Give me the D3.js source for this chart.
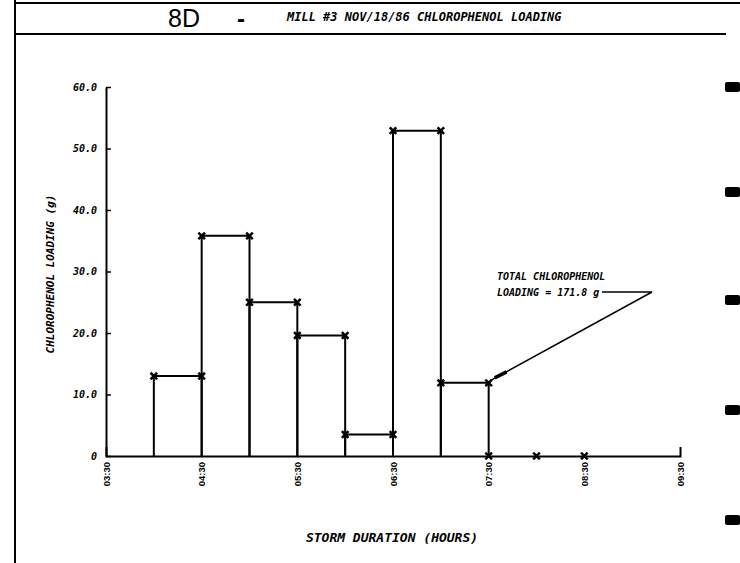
<!DOCTYPE html>
<html><head><meta charset="utf-8">
<script src="https://cdn.jsdelivr.net/npm/d3@7"></script>
<style>body{margin:0;background:#fff}</style>
</head><body><svg id="c" width="740" height="563"></svg>
<script>
// ---- data ----
const intervalStarts = ["04:00","04:30","05:00","05:30","06:00","06:30","07:00"];
const intervalEnds   = ["04:30","05:00","05:30","06:00","06:30","07:00","07:30"];
const loadings       = [13.0, 35.8, 25.0, 19.6, 3.5, 52.9, 11.9];
const zeroTimes      = ["07:30","08:00","08:30"];
const zeroValues     = [0, 0, 0];
const xTickLabels    = ["03:30","04:30","05:30","06:30","07:30","08:30","09:30"];
const yTicks         = [0, 10, 20, 30, 40, 50, 60];
const yTickLabels    = ["0","10.0","20.0","30.0","40.0","50.0","60.0"];
const figureId       = "8D";
const titleText      = "MILL #3 NOV/18/86 CHLOROPHENOL LOADING";
const yTitle         = "CHLOROPHENOL LOADING (g)";
const xTitle         = "STORM DURATION (HOURS)";
const totalNote      = ["TOTAL CHLOROPHENOL", "LOADING = 171.8 g"];

const parse = d3.timeParse("%H:%M");
const svg = d3.select("#c");
const plotFont = "'DejaVu Sans Mono', monospace";

// ---- frame / header ----
svg.append("line").attr("x1",15).attr("x2",740).attr("y1",3).attr("y2",3).attr("stroke","#000").attr("stroke-width",2);
svg.append("line").attr("x1",15).attr("x2",726).attr("y1",34).attr("y2",34).attr("stroke","#000").attr("stroke-width",2);
svg.append("line").attr("x1",15).attr("x2",15).attr("y1",0).attr("y2",563).attr("stroke","#000").attr("stroke-width",2);
svg.append("text").attr("x",168).attr("y",27).attr("font-family","'Liberation Sans', Arial, sans-serif")
  .attr("font-size",25).text(figureId);
svg.append("text").attr("x",241).attr("y",27).attr("text-anchor","middle").attr("font-family","'Liberation Sans', Arial, sans-serif")
  .attr("font-size",24).attr("font-weight","bold").text("-");
svg.append("text").attr("x",287).attr("y",21).attr("font-family",plotFont).attr("font-size",12)
  .attr("font-weight","bold").attr("font-style","italic").text(titleText);

// binder-hole marks on right edge (scan artifacts)
[87,192,300,410,520].forEach(yy=>{
  svg.append("rect").attr("x",725).attr("y",yy-5).attr("width",15).attr("height",10).attr("rx",2).attr("fill","#000");
});

// ---- scales ----
const x = d3.scaleTime().domain([parse(xTickLabels[0]), parse(xTickLabels[xTickLabels.length-1])]).range([106, 680]);
const y = d3.scaleLinear().domain([0, 60]).range([456, 87]);

// ---- axes ----
const yAxis = svg.append("g").attr("transform","translate(106,0)")
  .call(d3.axisLeft(y).tickValues(yTicks).tickFormat((d,i)=>yTickLabels[i]).tickSizeInner(-5).tickSizeOuter(0).tickPadding(9));
yAxis.select(".domain").attr("stroke-width",2);
yAxis.selectAll(".tick line").attr("stroke-width",1.5);
yAxis.selectAll("text").attr("font-family",plotFont).attr("font-size",10).attr("font-weight","bold").attr("font-style","italic");

const xAxis = svg.append("g").attr("transform","translate(0,456)")
  .call(d3.axisBottom(x).tickValues(xTickLabels.map(parse)).tickFormat(d3.timeFormat("%H:%M")).tickSizeInner(0).tickSizeOuter(-9));
xAxis.select(".domain").attr("stroke-width",2);
xAxis.selectAll("text").attr("transform","rotate(-90)").attr("x",-6).attr("y",0).attr("dy","0.35em")
  .style("text-anchor","end").attr("font-family","'Liberation Sans', Arial, sans-serif")
  .attr("font-size",9.5).attr("font-weight","bold");

// ---- bars (step outlines) ----
const bars = intervalStarts.map((s,i)=>({s:parse(s), e:parse(intervalEnds[i]), v:loadings[i]}));
svg.append("g").selectAll("path").data(bars).join("path")
  .attr("d", d=>`M${x(d.s)},${y(0)}V${y(d.v)}H${x(d.e)}V${y(0)}`)
  .attr("fill","none").attr("stroke","#000").attr("stroke-width",2);

// ---- markers ----
const pts = [];
bars.forEach(d=>{ pts.push([d.s,d.v]); pts.push([d.e,d.v]); });
zeroTimes.forEach((t,i)=>pts.push([parse(t), zeroValues[i]]));
const sym = d3.symbol().type(d3.symbolX).size(30);
svg.append("g").selectAll("path").data(pts).join("path")
  .attr("transform", d=>`translate(${x(d[0])},${y(d[1])})`)
  .attr("d", sym).attr("fill","none").attr("stroke","#000").attr("stroke-width",2.5);

// ---- annotation ----
const noteG = svg.append("g").attr("font-family",plotFont).attr("font-size",10).attr("font-weight","bold").attr("font-style","italic");
noteG.append("text").attr("x",497).attr("y",280).text(totalNote[0]);
noteG.append("text").attr("x",497).attr("y",296).text(totalNote[1]);
const ax = x(parse(intervalEnds[6])), ay = y(loadings[6]);
svg.append("path").attr("d",`M602,292H652L${ax+3},${ay-3}`).attr("fill","none").attr("stroke","#000").attr("stroke-width",1.5);
svg.append("line").attr("x1",ax+6).attr("y1",ay-5).attr("x2",ax+18).attr("y2",ay-11).attr("stroke","#000").attr("stroke-width",3.5);

// ---- axis titles ----
svg.append("text").attr("transform","translate(54,274) rotate(-90)").attr("text-anchor","middle")
  .attr("font-family",plotFont).attr("font-size",11).attr("font-weight","bold").attr("font-style","italic").text(yTitle);
svg.append("text").attr("x",392).attr("y",542).attr("text-anchor","middle")
  .attr("font-family",plotFont).attr("font-size",13).attr("font-weight","bold").attr("font-style","italic").text(xTitle);
</script></body></html>
